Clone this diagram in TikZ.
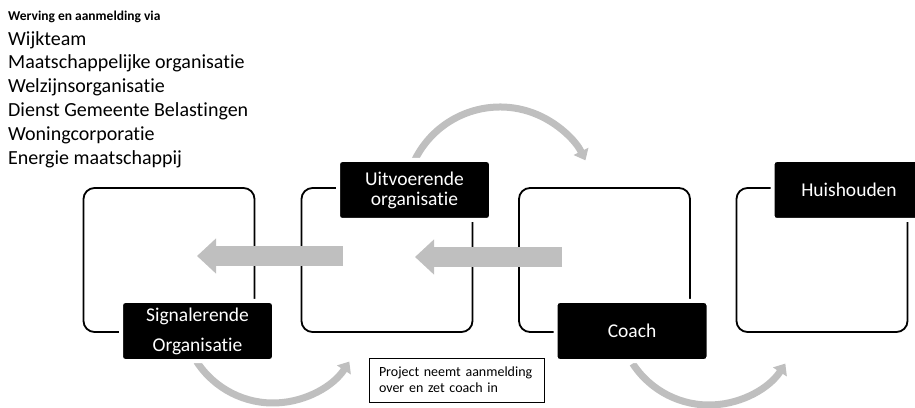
\documentclass[tikz,border=0pt]{standalone}
\usepackage{fontspec}
\setmainfont{Carlito}[Ligatures={NoCommon}]
\usetikzlibrary{arrows.meta}
\definecolor{arrowgray}{RGB}{191,191,191}
\begin{document}
\begin{tikzpicture}[x=1pt,y=1pt,
 bigbox/.style={draw=black, line width=1.8pt, rounded corners=11pt, minimum width=171pt, minimum height=144pt, inner sep=0pt},
 tag/.style={fill=black, draw=white, line width=4pt, rounded corners=4pt, text=white, minimum width=153pt, minimum height=60pt, inner sep=0pt, align=center},
 flat/.style={arrowgray, line width=20pt, -{Triangle[width=34pt,length=19pt]}},
 curve/.style={arrowgray, line width=7pt, -{Triangle[width=16pt,length=10pt]}},
]
\useasboundingbox (0,0) rectangle (915,407);
% main boxes
\node[bigbox] (b1) at (169,147) {};
\node[bigbox] (b2) at (387,147) {};
\node[bigbox] (b3) at (604.5,147) {};
\node[bigbox] (b4) at (822,147) {};
% straight gray arrows
\coordinate (a1s) at (343,151);
\coordinate (a1e) at (197,151);
\coordinate (a2s) at (562,150);
\coordinate (a2e) at (415,150);
\draw[flat] (a1s) -- (a1e);
\draw[flat] (a2s) -- (a2e);
% curved gray arrows
\coordinate (c1) at (500,205);
\coordinate (c2) at (273,95);
\coordinate (c3) at (709,93);
\draw[curve] ([shift={(154:95)}]c1) arc[start angle=154, end angle=26, radius=95];
\draw[curve] ([shift={(213:91)}]c2) arc[start angle=213, end angle=327, radius=91];
\draw[curve] ([shift={(213:91)}]c3) arc[start angle=213, end angle=327, radius=91];
% labels
\node[tag, font=\fontsize{19.5}{30}\selectfont] (sig) at (197.5,76) {Signalerende\\Organisatie};
\node[tag, font=\fontsize{19.5}{20}\selectfont] (uit) at (414.5,217) {Uitvoerende\\organisatie};
\node[tag, font=\fontsize{19.5}{22}\selectfont] (coach) at (632,76) {Coach};
\node[tag, font=\fontsize{19.5}{22}\selectfont] (huis) at (849,217) {Huishouden};
% project text box
\node[draw=black, line width=0.8pt, text width=155pt, inner xsep=10pt, inner ysep=0pt, minimum height=44pt, align=left, font=\fontsize{14}{16}\selectfont] (proj) at (456.5,27) {Project neemt aanmelding\\over en zet coach in};
% top-left text
\node[anchor=base west, inner sep=0pt, font=\bfseries\fontsize{13.5}{15}\selectfont] (head) at (8,386) {Werving en aanmelding via};
\node[anchor=north west, inner sep=0pt, align=left, font=\fontsize{20}{23.8}\selectfont] (list) at (8,376) {Wijkteam\\Maatschappelijke organisatie\\Welzijnsorganisatie\\Dienst Gemeente Belastingen\\Woningcorporatie\\Energie maatschappij};
\end{tikzpicture}
\end{document}
